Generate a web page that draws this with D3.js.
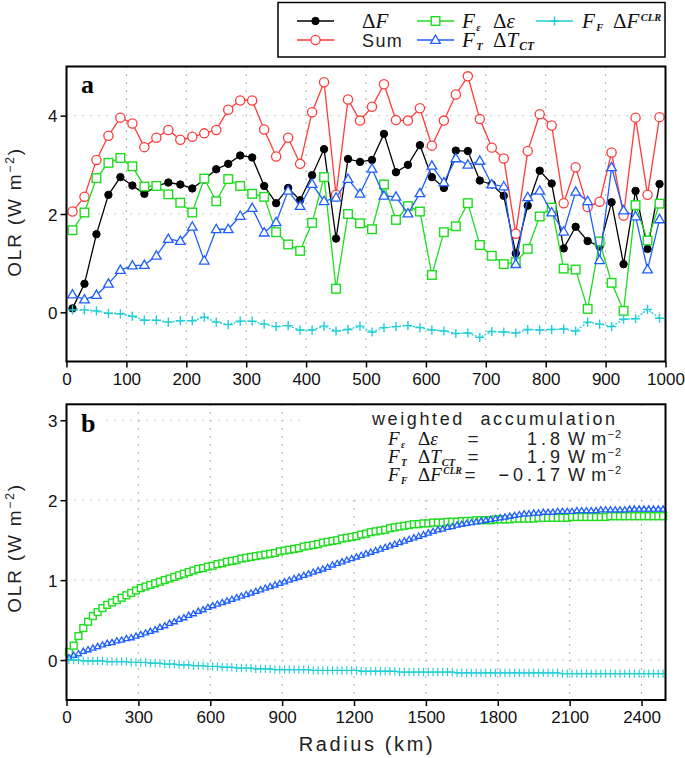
<!DOCTYPE html>
<html>

<head>
    <meta charset="UTF-8">
    <style>
        body { margin: 0; background: #fff; }
        .sans { font-family: "Liberation Sans", Arial, sans-serif; }
        .serif { font-family: "Liberation Serif", "Times New Roman", serif; }
    </style>
</head>

<body>
    <svg></svg>
    <script src="https://d3js.org/d3.v7.min.js"></script>

    <script>

        let width = 685, height = 758;

        let svg = d3.select("svg")
            .attr("width", width)
            .attr("height", height)

        // ---- panel a data (radius 10..990 km, every 20 km)
        const radiusA = d3.range(10, 1000, 20);
        const dF = [0.08, 0.58, 1.59, 2.39, 2.75, 2.58, 2.41, 2.57, 2.64, 2.60,
            2.52, 2.70, 2.91, 3.02, 3.19, 3.15, 2.57, 2.22, 2.53, 2.28,
            2.79, 3.32, 1.50, 3.12, 3.06, 3.10, 3.63, 2.85, 3.00, 3.40,
            2.75, 2.53, 3.29, 3.28, 2.68, 2.60, 2.37, 1.20, 2.17, 2.88,
            2.62, 1.30, 1.74, 1.45, 1.34, 2.24, 0.98, 2.47, 1.29, 2.61];
        const sumA = [2.05, 2.35, 3.10, 3.59, 3.96, 3.84, 3.36, 3.55, 3.71, 3.51,
            3.57, 3.64, 3.71, 4.12, 4.31, 4.31, 3.72, 3.17, 3.55, 3.02,
            4.07, 4.68, 2.39, 4.33, 3.90, 4.18, 4.64, 3.91, 3.90, 4.15,
            3.39, 3.90, 4.43, 4.80, 3.93, 3.35, 3.13, 1.60, 3.28, 4.03,
            3.80, 2.22, 2.95, 2.14, 2.25, 3.25, 1.97, 3.96, 2.39, 3.97];
        const emisA = [1.67, 2.03, 2.73, 3.04, 3.14, 2.97, 2.56, 2.57, 2.40, 2.23,
            2.03, 2.72, 2.26, 2.71, 2.57, 2.41, 2.35, 1.63, 1.38, 1.25,
            1.82, 2.75, 0.48, 2.00, 1.81, 1.69, 2.60, 1.88, 2.16, 2.05,
            0.76, 1.63, 1.75, 2.22, 1.37, 1.15, 0.98, 1.02, 1.29, 1.95,
            2.13, 0.89, 0.87, 0.07, 1.44, 0.60, 0.03, 2.18, 1.46, 2.21];
        const tempA = [0.36, 0.26, 0.35, 0.58, 0.86, 0.95, 0.96, 1.15, 1.49, 1.45,
            1.74, 1.05, 1.69, 1.69, 1.96, 2.12, 1.62, 1.83, 2.47, 2.16,
            2.61, 2.26, 2.33, 2.71, 2.41, 2.92, 2.37, 2.35, 2.01, 2.42,
            2.98, 2.64, 3.13, 3.00, 3.08, 2.60, 2.56, 0.98, 2.34, 2.47,
            2.03, 1.64, 2.45, 2.26, 1.06, 2.95, 2.07, 1.95, 0.87, 1.89];
        const clrA = [0.05, 0.05, 0.03, -0.02, -0.03, -0.08, -0.16, -0.16, -0.20, -0.17,
            -0.17, -0.10, -0.20, -0.25, -0.18, -0.18, -0.24, -0.29, -0.27, -0.36,
            -0.36, -0.28, -0.38, -0.35, -0.28, -0.40, -0.31, -0.29, -0.27, -0.31,
            -0.36, -0.38, -0.43, -0.42, -0.51, -0.39, -0.40, -0.42, -0.35, -0.36,
            -0.35, -0.34, -0.38, -0.20, -0.24, -0.29, -0.14, -0.13, 0.06, -0.12];

        // ---- panel b data (weighted accumulation, radius 10..2490 km)
        const radiusB = d3.range(10, 2500, 20);
        const emisB = [0.10, 0.18, 0.30, 0.40, 0.48, 0.55, 0.60, 0.65, 0.69, 0.72,
            0.75, 0.78, 0.81, 0.84, 0.87, 0.90, 0.92, 0.94, 0.96, 0.98,
            1.00, 1.02, 1.04, 1.06, 1.08, 1.10, 1.12, 1.14, 1.15, 1.17,
            1.18, 1.20, 1.21, 1.23, 1.24, 1.25, 1.27, 1.28, 1.29, 1.30,
            1.31, 1.32, 1.33, 1.34, 1.36, 1.37, 1.38, 1.39, 1.40, 1.42,
            1.43, 1.44, 1.45, 1.47, 1.48, 1.49, 1.50, 1.52, 1.53, 1.54,
            1.55, 1.57, 1.58, 1.60, 1.61, 1.62, 1.63, 1.65, 1.66, 1.67,
            1.68, 1.69, 1.70, 1.70, 1.71, 1.71, 1.72, 1.72, 1.72, 1.73,
            1.73, 1.73, 1.74, 1.74, 1.74, 1.75, 1.75, 1.75, 1.75, 1.76,
            1.76, 1.76, 1.76, 1.77, 1.77, 1.77, 1.77, 1.77, 1.78, 1.78,
            1.78, 1.78, 1.78, 1.78, 1.78, 1.79, 1.79, 1.79, 1.79, 1.79,
            1.79, 1.79, 1.79, 1.80, 1.80, 1.80, 1.80, 1.80, 1.80, 1.80,
            1.80, 1.80, 1.80, 1.80, 1.80];
        const tempB = [0.03, 0.06, 0.08, 0.11, 0.13, 0.15, 0.17, 0.19, 0.21, 0.22,
            0.24, 0.25, 0.27, 0.28, 0.30, 0.32, 0.34, 0.36, 0.38, 0.41,
            0.43, 0.46, 0.48, 0.51, 0.53, 0.56, 0.58, 0.61, 0.63, 0.66,
            0.68, 0.70, 0.72, 0.74, 0.76, 0.78, 0.80, 0.82, 0.84, 0.86,
            0.88, 0.90, 0.92, 0.94, 0.96, 0.98, 1.00, 1.02, 1.04, 1.06,
            1.08, 1.10, 1.12, 1.14, 1.16, 1.19, 1.21, 1.23, 1.25, 1.27,
            1.29, 1.31, 1.33, 1.35, 1.37, 1.39, 1.41, 1.43, 1.45, 1.47,
            1.49, 1.51, 1.53, 1.55, 1.57, 1.59, 1.61, 1.63, 1.64, 1.66,
            1.67, 1.69, 1.70, 1.71, 1.72, 1.73, 1.74, 1.75, 1.76, 1.77,
            1.78, 1.79, 1.80, 1.81, 1.82, 1.83, 1.83, 1.84, 1.84, 1.85,
            1.85, 1.85, 1.86, 1.86, 1.86, 1.86, 1.87, 1.87, 1.87, 1.87,
            1.87, 1.88, 1.88, 1.88, 1.88, 1.88, 1.88, 1.89, 1.89, 1.89,
            1.89, 1.89, 1.89, 1.89, 1.89];
        const clrB = [0.00, 0.00, 0.00, -0.01, -0.01, -0.01, -0.01, -0.01, -0.02, -0.02,
            -0.02, -0.02, -0.02, -0.03, -0.03, -0.03, -0.03, -0.04, -0.04, -0.04,
            -0.05, -0.05, -0.05, -0.06, -0.06, -0.06, -0.07, -0.07, -0.07, -0.08,
            -0.08, -0.08, -0.09, -0.09, -0.09, -0.10, -0.10, -0.10, -0.10, -0.11,
            -0.11, -0.11, -0.11, -0.12, -0.12, -0.12, -0.12, -0.12, -0.12, -0.12,
            -0.12, -0.13, -0.13, -0.13, -0.13, -0.13, -0.13, -0.13, -0.13, -0.13,
            -0.13, -0.14, -0.14, -0.14, -0.14, -0.14, -0.14, -0.14, -0.14, -0.15,
            -0.15, -0.15, -0.15, -0.15, -0.15, -0.15, -0.15, -0.15, -0.15, -0.15,
            -0.15, -0.16, -0.16, -0.16, -0.16, -0.16, -0.16, -0.16, -0.16, -0.16,
            -0.16, -0.16, -0.16, -0.16, -0.16, -0.16, -0.16, -0.16, -0.16, -0.16,
            -0.16, -0.16, -0.16, -0.17, -0.17, -0.17, -0.17, -0.17, -0.17, -0.17,
            -0.17, -0.17, -0.17, -0.17, -0.17, -0.17, -0.17, -0.17, -0.17, -0.17,
            -0.17, -0.17, -0.17, -0.17, -0.17];

        const ticksXa = d3.range(0, 1001, 100);
        const ticksYa = [0, 2, 4];
        const ticksXb = d3.range(0, 2401, 300);
        const ticksYb = [0, 1, 2, 3];

        const accValues = ["1.8", "1.9", "−0.17"];

        const col = { black: "#000", red: "#ff3b3b", green: "#1fdc1f", blue: "#1f5fff", cyan: "#20cfd6" };

        // scales
        const xA = d3.scaleLinear().domain([0, 1000]).range([66.5, 665.5]);
        const yA = d3.scaleLinear().domain([-1, 5]).range([361.5, 66.5]);
        const xB = d3.scaleLinear().domain([0, 2500]).range([66.5, 665.5]);
        const yB = d3.scaleLinear().domain([-0.5, 3.2]).range([700, 404.3]);

        // marker drawing helper
        function marker(g, type, x, y, c, s) {
            if (type == "dot") {
                g.append("circle").attr("cx", x).attr("cy", y).attr("r", s).attr("fill", c).attr("stroke", c);
            } else if (type == "circle") {
                g.append("circle").attr("cx", x).attr("cy", y).attr("r", s).attr("fill", "#fff").attr("stroke", c).attr("stroke-width", 1.3);
            } else if (type == "square") {
                g.append("rect").attr("x", x - s).attr("y", y - s).attr("width", 2 * s).attr("height", 2 * s)
                    .attr("fill", "#fff").attr("stroke", c).attr("stroke-width", 1.4);
            } else if (type == "tri") {
                let h = s * 1.732;
                g.append("path").attr("d", `M${x},${y - h * 0.6}L${x + s},${y + h * 0.4}L${x - s},${y + h * 0.4}Z`)
                    .attr("fill", "#fff").attr("stroke", c).attr("stroke-width", 1.3);
            } else if (type == "plus") {
                g.append("path").attr("d", `M${x - s},${y}H${x + s}M${x},${y - s}V${y + s}`)
                    .attr("stroke", c).attr("stroke-width", 1.4).attr("fill", "none");
            } else if (type == "plusB") {
                g.append("path").attr("d", `M${x - s * 0.6},${y}H${x + s * 0.6}M${x},${y - s}V${y + s}`)
                    .attr("stroke", c).attr("stroke-width", 1.1).attr("fill", "none");
            }
        }

        function drawFrame(x, y, ticksX, ticksY, labelY) {
            const g = svg.append("g");
            const [x0, x1] = x.range(), [y0, y1] = y.range();
            // dotted grid
            ticksX.filter(t => t > x.domain()[0] && t < x.domain()[1]).forEach(t => {
                g.append("line").attr("x1", x(t)).attr("x2", x(t)).attr("y1", y1).attr("y2", y0)
                    .attr("stroke", "#777").attr("stroke-width", 1).attr("stroke-dasharray", "1.2,6.8");
            });
            ticksY.forEach(t => {
                g.append("line").attr("x1", x0).attr("x2", x1).attr("y1", y(t)).attr("y2", y(t))
                    .attr("stroke", "#aaa").attr("stroke-width", 1).attr("stroke-dasharray", "1.2,6.8");
            });
            // axes
            const ax = g.append("g").attr("transform", `translate(0,${y0})`)
                .call(d3.axisBottom(x).tickValues(ticksX).tickSize(6).tickFormat(d3.format("d")));
            const ay = g.append("g").attr("transform", `translate(${x0},0)`)
                .call(d3.axisLeft(y).tickValues(ticksY).tickSize(6).tickFormat(d3.format("d")));
            [ax, ay].forEach(a => {
                a.select(".domain").remove();
                a.selectAll(".tick line").attr("stroke", "#000").attr("stroke-width", 1.5);
                a.selectAll("text").attr("font-size", 17).attr("fill", "#111")
                    .attr("font-family", "Liberation Sans, Arial, sans-serif");
            });
            ax.selectAll("text").attr("dy", "0.95em").attr("y", 7);
            ay.selectAll("text").attr("x", -9).attr("dy", "0.36em");
            // y title
            const yt = g.append("text").attr("class", "sans")
                .attr("transform", `translate(21,${labelY}) rotate(-90)`)
                .attr("text-anchor", "middle").attr("font-size", 19).attr("letter-spacing", 1.8).attr("fill", "#222");
            yt.append("tspan").text("OLR (W m");
            yt.append("tspan").attr("dy", -7).attr("font-size", 12).text("−2");
            yt.append("tspan").attr("dy", 7).text(")");
            return g;
        }

        function frameBorder(x, y) {
            const [x0, x1] = x.range(), [y0, y1] = y.range();
            svg.append("rect").attr("x", x0).attr("y", y1).attr("width", x1 - x0).attr("height", y0 - y1)
                .attr("fill", "none").attr("stroke", "#000").attr("stroke-width", 2);
        }

        function series(g, xs, ys, x, y, c, type, s, dash) {
            const line = d3.line().x((d, i) => x(xs[i])).y(d => y(d));
            g.append("path").datum(ys).attr("d", line).attr("fill", "none").attr("stroke", c)
                .attr("stroke-width", 1.3).attr("stroke-dasharray", dash || null);
            ys.forEach((v, i) => marker(g, type, x(xs[i]), y(v), c, s));
        }

        // F_x  Δ(...) label: F at x, Δ at dx
        function fLabel(parent, x, dx, y, sub, rest, restSub, restSup, fs) {
            const t = parent.append("text").attr("class", "serif").attr("y", y).attr("font-size", fs).attr("fill", "#111");
            t.append("tspan").attr("x", x).attr("font-style", "italic").text("F");
            t.append("tspan").attr("font-style", "italic").attr("font-weight", "bold").attr("font-size", fs * 0.5)
                .attr("dx", 1.5).attr("dy", 3).text(sub);
            t.append("tspan").attr("x", dx).attr("dy", -3).text("Δ");
            t.append("tspan").attr("font-style", "italic").text(rest);
            if (restSub) t.append("tspan").attr("font-style", "italic").attr("font-weight", "bold")
                .attr("font-size", fs * 0.55).attr("dx", 1).attr("dy", 3).text(restSub);
            if (restSup) t.append("tspan").attr("font-style", "italic").attr("font-weight", "bold")
                .attr("font-size", fs * 0.5).attr("dx", 1.5).attr("dy", -7).text(restSup);
            return t;
        }

        // ---------------- panel a
        drawFrame(xA, yA, ticksXa, ticksYa, 212);
        const gA = svg.append("g");
        series(gA, radiusA, dF, xA, yA, col.black, "dot", 3.7);
        series(gA, radiusA, sumA, xA, yA, col.red, "circle", 4.6);
        series(gA, radiusA, emisA, xA, yA, col.green, "square", 4.3);
        series(gA, radiusA, tempA, xA, yA, col.blue, "tri", 4.8);
        series(gA, radiusA, clrA, xA, yA, col.cyan, "plus", 4.6, "2,1.5");
        frameBorder(xA, yA);
        svg.append("text").attr("class", "serif").attr("x", 81).attr("y", 93)
            .attr("font-size", 26).attr("font-weight", "bold").text("a");

        // ---------------- panel b
        drawFrame(xB, yB, ticksXb, ticksYb, 548);
        svg.append("rect").attr("x", 68).attr("y", 406).attr("width", 38).attr("height", 32).attr("fill", "#fff");
        svg.append("rect").attr("x", 300).attr("y", 406).attr("width", 364).attr("height", 88).attr("fill", "#fff");
        const gB = svg.append("g");
        series(gB, radiusB, emisB, xB, yB, col.green, "square", 3.4);
        series(gB, radiusB, tempB, xB, yB, col.blue, "tri", 3.0);
        series(gB, radiusB, clrB, xB, yB, col.cyan, "plusB", 4.2);
        frameBorder(xB, yB);
        svg.append("text").attr("class", "serif").attr("x", 81).attr("y", 432)
            .attr("font-size", 26).attr("font-weight", "bold").text("b");

        svg.append("text").attr("class", "sans").attr("x", 367).attr("y", 751).attr("text-anchor", "middle")
            .attr("font-size", 20).attr("letter-spacing", 2.6).attr("fill", "#222").text("Radius (km)");

        // accumulation text
        const acc = svg.append("g");
        acc.append("text").attr("class", "sans").attr("x", 372).attr("y", 425).attr("font-size", 18)
            .attr("letter-spacing", 2.6).attr("word-spacing", 8).attr("fill", "#222").text("weighted accumulation");

        const accRows = [
            { y: 445, sub: "ε", rest: "ε", rs: null, rp: null, eq: 473 },
            { y: 463, sub: "T", rest: "T", rs: "CT", rp: null, eq: 473 },
            { y: 481, sub: "F", rest: "F", rs: null, rp: "CLR", eq: 470 }
        ];
        accRows.forEach((r, i) => {
            fLabel(acc, 388, 418, r.y, r.sub, r.rest, r.rs, r.rp, 19);
            acc.append("text").attr("class", "sans").attr("x", r.eq).attr("y", r.y).attr("text-anchor", "middle")
                .attr("font-size", 19).attr("fill", "#222").text("=");
            acc.append("text").attr("class", "sans").attr("x", 564).attr("y", r.y).attr("text-anchor", "end")
                .attr("font-size", 18).attr("letter-spacing", 4).attr("fill", "#222").text(accValues[i]);
            const u = acc.append("text").attr("class", "sans").attr("x", 568).attr("y", r.y)
                .attr("font-size", 18).attr("letter-spacing", 1.2).attr("fill", "#222");
            u.append("tspan").text("W");
            u.append("tspan").attr("dx", 5).text("m");
            u.append("tspan").attr("dy", -7).attr("font-size", 11).text("−2");
        });

        // ---------------- legend
        const lg = svg.append("g");
        lg.append("rect").attr("x", 278).attr("y", 2.5).attr("width", 387).attr("height", 54.5)
            .attr("fill", "#fff").attr("stroke", "#000").attr("stroke-width", 1.5);
        const legendItems = [
            { x: 297, y: 21, c: col.black, type: "dot", s: 3.7 },
            { x: 297, y: 40, c: col.red, type: "circle", s: 4.6 },
            { x: 417, y: 21, c: col.green, type: "square", s: 4.3 },
            { x: 417, y: 40, c: col.blue, type: "tri", s: 4.8 },
            { x: 536, y: 21, c: col.cyan, type: "plus", s: 4.6 }
        ];
        legendItems.forEach(d => {
            lg.append("line").attr("x1", d.x).attr("x2", d.x + 37).attr("y1", d.y).attr("y2", d.y)
                .attr("stroke", d.c).attr("stroke-width", 1.3);
            marker(lg, d.type, d.x + 18.5, d.y, d.c, d.s);
        });
        const t1 = lg.append("text").attr("class", "serif").attr("x", 362).attr("y", 28).attr("font-size", 21).attr("fill", "#111");
        t1.append("tspan").text("Δ");
        t1.append("tspan").attr("font-style", "italic").text("F");
        lg.append("text").attr("class", "sans").attr("x", 362).attr("y", 47).attr("font-size", 18)
            .attr("letter-spacing", 1.4).attr("fill", "#222").text("Sum");
        fLabel(lg, 462, 493, 28, "ε", "ε", null, null, 21);
        fLabel(lg, 462, 493, 47, "T", "T", "CT", null, 21);
        fLabel(lg, 582, 613, 28, "F", "F", null, "CLR", 21);

    </script>

</body>

</html>
